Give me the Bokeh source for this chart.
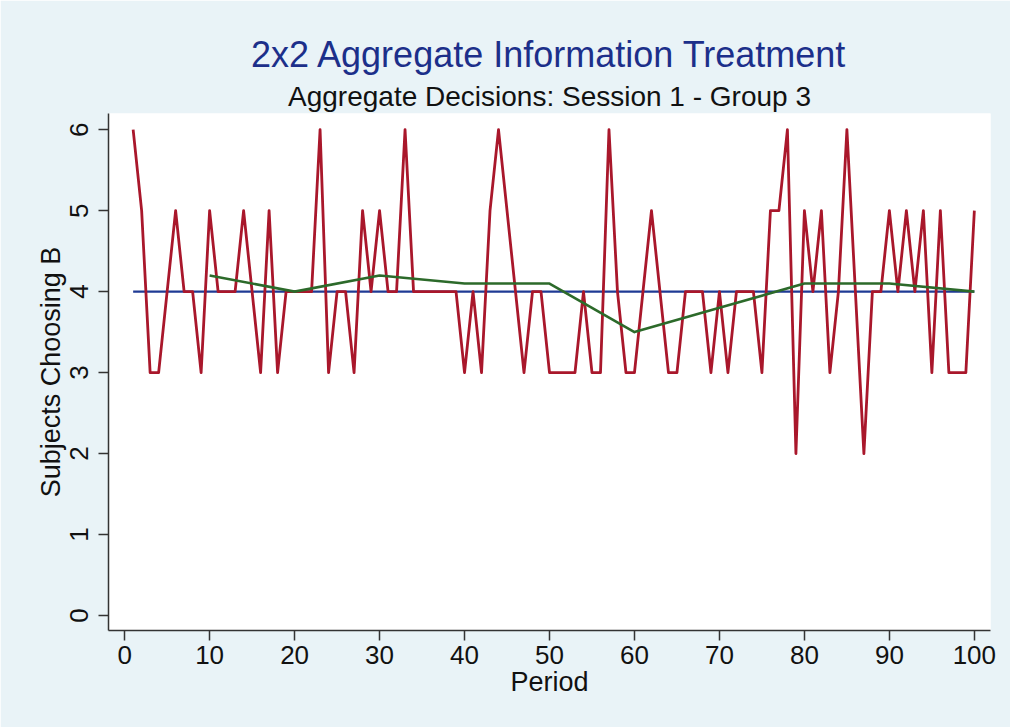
from bokeh.plotting import figure
from bokeh.models import Title, FixedTicker, Range1d
from bokeh.embed import file_html
from bokeh.resources import INLINE

# Number of subjects (out of 6) choosing B in each period
periods = list(range(1, 101))
choosing_b = [
    6, 5, 3, 3, 4, 5, 4, 4, 3, 5,
    4, 4, 4, 5, 4, 3, 5, 3, 4, 4,
    4, 4, 6, 3, 4, 4, 3, 5, 4, 5,
    4, 4, 6, 4, 4, 4, 4, 4, 4, 3,
    4, 3, 5, 6, 5, 4, 3, 4, 4, 3,
    3, 3, 3, 4, 3, 3, 6, 4, 3, 3,
    4, 5, 4, 3, 3, 4, 4, 4, 3, 4,
    3, 4, 4, 4, 3, 5, 5, 6, 2, 5,
    4, 5, 3, 4, 6, 4, 2, 4, 4, 5,
    4, 5, 4, 5, 3, 5, 3, 3, 3, 5,
]

# Ten-period block averages, plotted at the last period of each block
block_end = [10, 20, 30, 40, 50, 60, 70, 80, 90, 100]
block_mean = [4.2, 4.0, 4.2, 4.1, 4.1, 3.5, 3.8, 4.1, 4.1, 4.0]

# Predicted number choosing B
benchmark = 4

x_ticks = [0, 10, 20, 30, 40, 50, 60, 70, 80, 90, 100]
y_ticks = [0, 1, 2, 3, 4, 5, 6]

FONT = "Liberation Sans"
BG = "#e9f3f7"

p = figure(
    width=1010, height=727,
    output_backend="svg", toolbar_location=None,
    x_range=Range1d(-1.9, 101.9), y_range=Range1d(-0.185, 6.2),
    min_border_left=108, min_border_right=20,
    min_border_top=113, min_border_bottom=97,
)
p.background_fill_color = "white"
p.border_fill_color = BG
p.outline_line_color = None
p.grid.visible = False

p.add_layout(Title(text="Aggregate Decisions: Session 1 - Group 3", align="center",
                   text_font=FONT, text_font_size="28px", text_font_style="normal",
                   text_color="#111111", standoff=3), "above")
p.add_layout(Title(text="2x2 Aggregate Information Treatment", align="center",
                   text_font=FONT, text_font_size="36px", text_font_style="normal",
                   text_color="#1c2f8a", standoff=6), "above")

# benchmark, decisions, block averages
p.line([periods[0], periods[-1]], [benchmark, benchmark], line_color="#1f3a94", line_width=2.2)
p.line(periods, choosing_b, line_color="#a9172b", line_width=2.8, line_join="round")
p.line(block_end, block_mean, line_color="#2c6a2a", line_width=2.6, line_join="round")

for ax in (p.xaxis[0], p.yaxis[0]):
    ax.axis_line_color = "#333333"
    ax.axis_line_width = 1.5
    ax.major_tick_line_color = "#333333"
    ax.major_tick_line_width = 1.5
    ax.major_tick_out = 10
    ax.major_tick_in = 0
    ax.minor_tick_line_color = None
    ax.major_label_text_font = FONT
    ax.major_label_text_font_size = "26px"
    ax.major_label_text_color = "#111111"
    ax.axis_label_text_font = FONT
    ax.axis_label_text_font_size = "27px"
    ax.axis_label_text_font_style = "normal"
    ax.axis_label_text_color = "#111111"

p.xaxis.ticker = FixedTicker(ticks=x_ticks)
p.yaxis.ticker = FixedTicker(ticks=y_ticks)
p.xaxis.axis_label = "Period"
p.yaxis.axis_label = "Subjects Choosing B"
p.yaxis.major_label_orientation = "vertical"
p.xaxis.major_label_standoff = 5
p.yaxis.major_label_standoff = 10
p.xaxis.axis_label_standoff = 0
p.yaxis.axis_label_standoff = 2

open("out.html", "w").write(file_html(p, INLINE))
